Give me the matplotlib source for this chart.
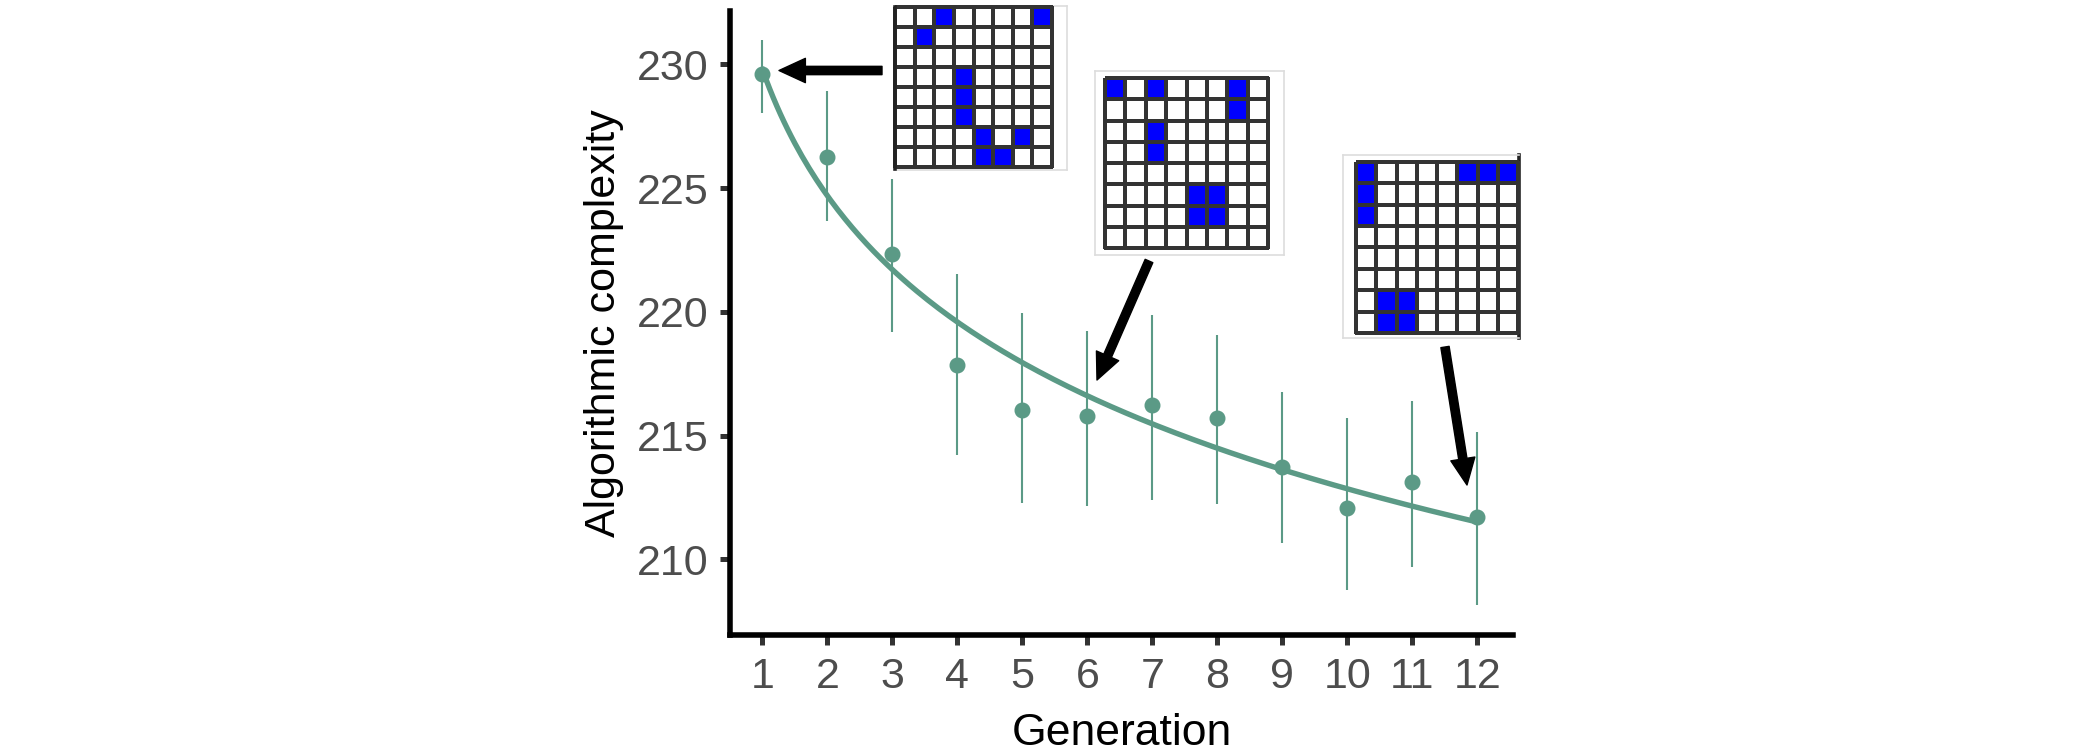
import numpy as np
import matplotlib
matplotlib.use('Agg')
import matplotlib.pyplot as plt
from matplotlib.colors import ListedColormap
from matplotlib.patches import FancyArrowPatch, ArrowStyle

plt.rcParams['font.family'] = ['Liberation Sans', 'DejaVu Sans']

# datos
generation = np.arange(1, 13)
complexity = [229.60, 226.27, 222.34, 217.86, 216.02, 215.80, 216.22, 215.71, 213.73, 212.07, 213.11, 211.70]
upper = [230.98, 228.93, 225.37, 221.52, 219.97, 219.23, 219.88, 219.07, 216.78, 215.73, 216.38, 215.13]
lower = [228.02, 223.65, 219.18, 214.23, 212.28, 212.17, 212.41, 212.24, 210.66, 208.78, 209.69, 208.17]
y_ticks = [210, 215, 220, 225, 230]

# patrones 8x8 de los insertos (1 = celda azul)
grid_gen1 = [
    [0, 0, 1, 0, 0, 0, 0, 1],
    [0, 1, 0, 0, 0, 0, 0, 0],
    [0, 0, 0, 0, 0, 0, 0, 0],
    [0, 0, 0, 1, 0, 0, 0, 0],
    [0, 0, 0, 1, 0, 0, 0, 0],
    [0, 0, 0, 1, 0, 0, 0, 0],
    [0, 0, 0, 0, 1, 0, 1, 0],
    [0, 0, 0, 0, 1, 1, 0, 0],
]
grid_gen6 = [
    [1, 0, 1, 0, 0, 0, 1, 0],
    [0, 0, 0, 0, 0, 0, 1, 0],
    [0, 0, 1, 0, 0, 0, 0, 0],
    [0, 0, 1, 0, 0, 0, 0, 0],
    [0, 0, 0, 0, 0, 0, 0, 0],
    [0, 0, 0, 0, 1, 1, 0, 0],
    [0, 0, 0, 0, 1, 1, 0, 0],
    [0, 0, 0, 0, 0, 0, 0, 0],
]
grid_gen12 = [
    [1, 0, 0, 0, 0, 1, 1, 1],
    [1, 0, 0, 0, 0, 0, 0, 0],
    [1, 0, 0, 0, 0, 0, 0, 0],
    [0, 0, 0, 0, 0, 0, 0, 0],
    [0, 0, 0, 0, 0, 0, 0, 0],
    [0, 0, 0, 0, 0, 0, 0, 0],
    [0, 1, 1, 0, 0, 0, 0, 0],
    [0, 1, 1, 0, 0, 0, 0, 0],
]

W, H = 2100, 750
green = '#5B9A86'


def fig_rect(x0, y0, x1, y1):
    # pixeles (origen arriba-izquierda) -> fraccion de figura
    return [x0 / W, 1 - y1 / H, (x1 - x0) / W, (y1 - y0) / H]


def fig_xy(x, y):
    return (x / W, 1 - y / H)


fig = plt.figure(figsize=(21, 7.5), dpi=100)
ax = fig.add_axes(fig_rect(730, 11, 1513, 635))

# ajuste logaritmico (como geom_smooth y ~ log(x))
coef = np.polyfit(np.log(generation), complexity, 1)
x_fit = np.linspace(1, 12, 200)
ax.plot(x_fit, np.polyval(coef, np.log(x_fit)), color=green, lw=3.9, zorder=2)

ax.vlines(generation, lower, upper, color=green, lw=1.5, zorder=3)
ax.plot(generation, complexity, 'o', color=green, ms=10.5, zorder=4)

ax.set_xlim(0.5, 12.55)
ax.set_ylim(206.95, 232.15)
ax.set_xticks(generation)
ax.set_yticks(y_ticks)
ax.tick_params(axis='both', labelsize=31, labelcolor='#4D4D4D', color='#333333',
               length=7.5, width=3.6, pad=8)
for side in ['top', 'right']:
    ax.spines[side].set_visible(False)
for side in ['left', 'bottom']:
    ax.spines[side].set_linewidth(4)
    ax.spines[side].set_color('black')
ax.set_xlabel('Generation', fontsize=32, labelpad=12)
ax.set_ylabel('Algorithmic complexity', fontsize=31, labelpad=9)

cmap = ListedColormap(['white', '#0000FF'])


def draw_grid(cells, frame, box, thick_side=None):
    # marco gris claro
    fax = fig.add_axes(fig_rect(*frame))
    fax.set_xticks([])
    fax.set_yticks([])
    for s in fax.spines.values():
        s.set_color('#DDDDDD')
        s.set_linewidth(1.2)
    if thick_side == 'left':
        fax.spines['left'].set_visible(False)
    gax = fig.add_axes(fig_rect(*box))
    gax.pcolormesh(np.array(cells), cmap=cmap, vmin=0, vmax=1,
                   edgecolors='#333333', linewidth=1.5, clip_on=False)
    gax.set_xlim(0, 8)
    gax.set_ylim(8, 0)
    gax.axis('off')
    if thick_side == 'left':
        gax.plot([0, 0], [0, 8.1], color='#222222', lw=2.6, clip_on=False)
    if thick_side == 'right':
        fax.plot([1, 1], [0, 1], color='#222222', lw=2.6, clip_on=False,
                 transform=fax.transAxes)
        fax.spines['right'].set_visible(False)


draw_grid(grid_gen1, (895, 6, 1067, 170), (895, 7, 1052, 167), thick_side='left')
draw_grid(grid_gen6, (1095, 71, 1284, 255), (1105, 78, 1268, 248))
draw_grid(grid_gen12, (1343, 155, 1519, 338), (1356, 162, 1518, 333), thick_side='right')

# flechas
style = ArrowStyle.Simple(head_length=1.9, head_width=1.75, tail_width=0.6)
arrows = [((882, 70.5), (779, 70.5)),
          ((1149, 261), (1097, 380)),
          ((1445, 347), (1467, 485))]
for tail, tip in arrows:
    arr = FancyArrowPatch(fig_xy(*tail), fig_xy(*tip), transform=fig.transFigure,
                          arrowstyle=style, mutation_scale=10, color='black',
                          shrinkA=0, shrinkB=0)
    fig.patches.append(arr)

fig.savefig('out.png', dpi=100)
